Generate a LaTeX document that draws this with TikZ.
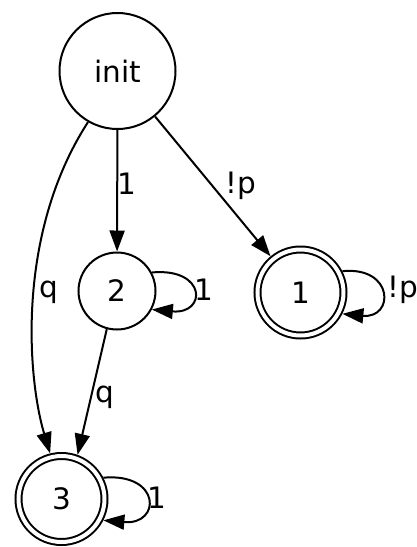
\documentclass[tikz,border=0pt]{standalone}
\usepackage{fontspec}
\setmainfont{DejaVu Sans}
\usetikzlibrary{arrows.meta}
\begin{document}
\begin{tikzpicture}[x=1pt,y=-1pt,
  every node/.style={font=\fontsize{29.5}{34}\selectfont},
  state/.style={circle,draw,line width=2pt,inner sep=0pt},
  accept/.style={circle,draw,line width=2pt,inner sep=0pt,double,double distance=4pt,outer sep=4pt,minimum size=86pt},
  edgelbl/.style={inner sep=0pt},
  trans/.style={line width=2pt,-{Triangle[length=21pt,width=15pt]}}]
\useasboundingbox (0,0) rectangle (417,547);
\node[state,minimum size=116pt] (init) at (117.5,71) {init};
\node[state,minimum size=77pt] (n2) at (117,291) {2};
\node[accept] (n1) at (300.5,292.5) {1};
\node[accept] (n3) at (61.5,499) {3};
% edges
\draw[trans] (init) -- (n2);
\draw[trans] (init) -- (n1);
\draw[trans] (init.-120) .. controls (15,235) and (28,380) .. (n3.104);
\draw[trans] (n2.-105) -- (n3.70);
% loops
\draw[trans] (n2.28) .. controls +(55,-5) and +(55,5) .. (n2.-28);
\draw[trans] (n1.27) .. controls +(52,-5) and +(52,5) .. (n1.-27);
\draw[trans] (n3.27) .. controls +(58,-5) and +(58,5) .. (n3.-27);
% labels
\node[edgelbl] (l1) at (126.5,184) {1};
\node[edgelbl] (l2) at (241,186) {!p};
\node[edgelbl] (l3) at (49,292) {q};
\node[edgelbl] (l4) at (203.5,290) {1};
\node[edgelbl] (l5) at (403,290) {!p};
\node[edgelbl] (l6) at (105,397) {q};
\node[edgelbl] (l7) at (156.5,498) {1};
\end{tikzpicture}
\end{document}
